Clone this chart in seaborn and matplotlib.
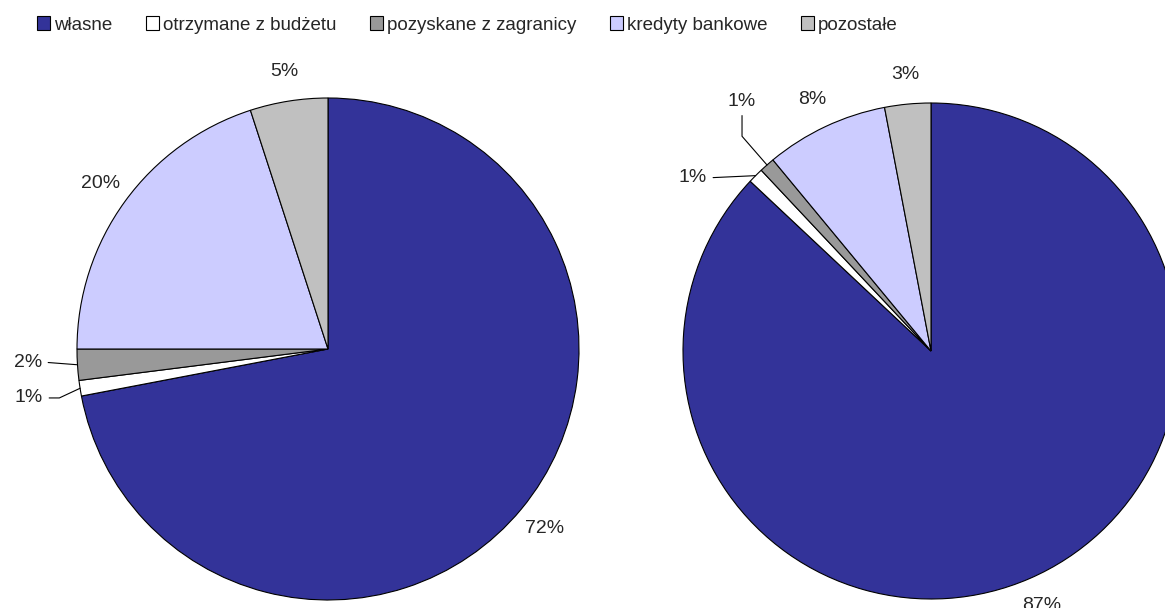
import numpy as np
import seaborn as sns
import matplotlib.pyplot as plt
from matplotlib.patches import Patch

categories = ['własne', 'otrzymane z budżetu', 'pozyskane z zagranicy', 'kredyty bankowe', 'pozostałe']
left_values = [72, 1, 2, 20, 5]
right_values = [87, 1, 1, 8, 3]
colors = ['#333399', '#FFFFFF', '#999999', '#CCCCFF', '#C0C0C0']

W, H = 1165, 608
LIM = 1.1

sns.set_theme(style='white')
plt.rcParams['font.family'] = ['Liberation Sans', 'DejaVu Sans']

fig = plt.figure(figsize=(W / 100, H / 100), dpi=100)
fig.patch.set_facecolor('white')


def pie_ax(cx, cy, r):
    # axes placed so that a unit pie has centre (cx, cy) and radius r in pixels
    ax = fig.add_axes([(cx - r * LIM) / W, (H - cy - r * LIM) / H, 2 * r * LIM / W, 2 * r * LIM / H])
    ax.axis('off')
    return ax


def draw_pie(ax, values, leaders, dist=1.12):
    wedges, _ = ax.pie(values, colors=colors, startangle=90, counterclock=False, radius=1,
                       wedgeprops=dict(edgecolor='black', linewidth=0.8))
    # pie() resets the limits, so set them afterwards
    ax.set_xlim(-LIM, LIM)
    ax.set_ylim(-LIM, LIM)
    ax.set_aspect('equal')
    for i, (w, v) in enumerate(zip(wedges, values)):
        theta = np.deg2rad((w.theta1 + w.theta2) / 2)
        label = f'{v}%'
        if i in leaders:
            tx, ty, relpos, conn = leaders[i]
            ax.annotate(label, xy=(np.cos(theta), np.sin(theta)), xytext=(tx, ty),
                        ha='right' if relpos[0] == 1 else 'center', va='center', fontsize=14,
                        arrowprops=dict(arrowstyle='-', color='black', lw=0.8, relpos=relpos,
                                        shrinkA=2, shrinkB=0, connectionstyle=conn),
                        annotation_clip=False)
        else:
            ax.text(dist * np.cos(theta), dist * np.sin(theta), label, ha='center', va='center',
                    fontsize=14, clip_on=False)


ax1 = pie_ax(328, 349, 251)
draw_pie(ax1, left_values, {
    1: (-1.135, -0.195, (1, 0.5), 'angle,angleA=0,angleB=25,rad=0'),
    2: (-1.139, -0.052, (1, 0.5), 'arc3'),
})

ax2 = pie_ax(931, 351, 248)
draw_pie(ax2, right_values, {
    1: (-0.903, 0.698, (1, 0.5), 'arc3'),
    2: (-0.762, 1.008, (0.5, 0), 'angle,angleA=90,angleB=131,rad=0'),
})

handles = [Patch(facecolor=c, edgecolor='black', linewidth=0.8) for c in colors]
fig.legend(handles, categories, loc='center left', bbox_to_anchor=(37 / W, 1 - 25 / H),
           ncol=5, frameon=False, handlelength=0.7, handleheight=0.7, handletextpad=0.2,
           columnspacing=1.8, borderpad=0, borderaxespad=0, fontsize=13.5)

fig.savefig('out.png', dpi=100, facecolor='white')
